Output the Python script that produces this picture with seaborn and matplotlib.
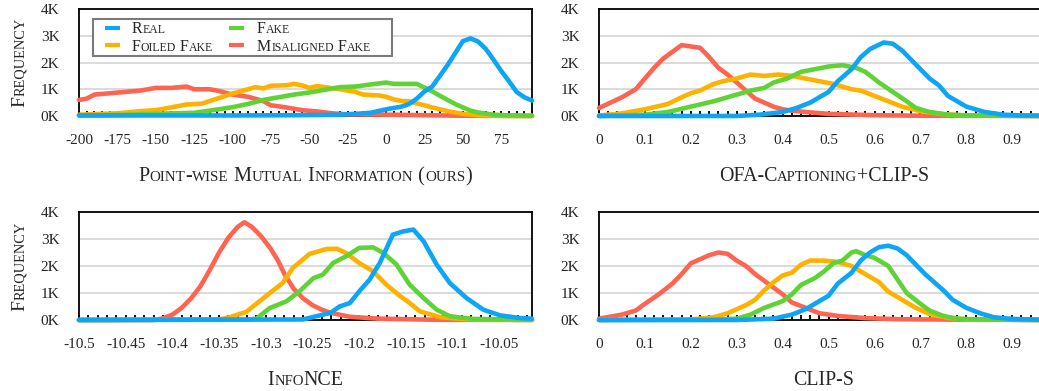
import numpy as np
import pandas as pd
import matplotlib
matplotlib.use("Agg")
import matplotlib.pyplot as plt
import seaborn as sns
from matplotlib.lines import Line2D
from matplotlib.patches import Rectangle

# ---------------- data ----------------
series_names = ["Real", "Foiled Fake", "Fake", "Misaligned Fake"]
draw_order = ["Misaligned Fake", "Foiled Fake", "Fake", "Real"]
palette = {"Real": "#0ea5f5", "Fake": "#5fd335", "Foiled Fake": "#ffb100", "Misaligned Fake": "#ff6450"}

# Point-wise Mutual Information (ours)
pmi_real_x = [-200, -150, -100, -60, -40, -30, -20, -10, 0, 10, 15, 20, 25, 30, 35, 40, 45, 50, 55, 60, 65, 70, 75, 80, 85, 90, 95]
pmi_real_y = [20, 20, 20, 30, 40, 50, 80, 120, 250, 350, 450, 650, 920, 1100, 1500, 1900, 2350, 2800, 2900, 2780, 2500, 2100, 1680, 1300, 900, 700, 580]
pmi_fake_x = [-200, -175, -150, -125, -115, -100, -90, -80, -70, -60, -50, -40, -30, -20, -10, 0, 5, 10, 20, 25, 30, 40, 45, 50, 55, 60, 70, 80, 95]
pmi_fake_y = [20, 40, 80, 120, 200, 330, 450, 600, 700, 800, 880, 980, 1080, 1100, 1180, 1250, 1200, 1200, 1200, 1060, 920, 600, 450, 320, 200, 130, 50, 20, 10]
pmi_foiled_x = [-200, -175, -160, -150, -140, -130, -120, -110, -100, -90, -85, -80, -75, -65, -60, -55, -50, -45, -40, -30, -25, -20, -15, -5, 0, 5, 10, 15, 20, 25, 30, 40, 50, 60, 70, 95]
pmi_foiled_y = [50, 100, 180, 220, 320, 430, 460, 650, 840, 1000, 1080, 1030, 1130, 1150, 1200, 1150, 1050, 1120, 1080, 1000, 950, 900, 800, 770, 720, 620, 560, 550, 470, 400, 320, 180, 80, 30, 10, 0]
pmi_mis_x = [-200, -195, -190, -180, -170, -160, -150, -140, -130, -125, -115, -110, -100, -90, -80, -75, -65, -55, -45, -35, -25, 0, 25, 50, 95]
pmi_mis_y = [600, 650, 800, 850, 900, 950, 1050, 1050, 1100, 1000, 1000, 950, 800, 720, 560, 400, 320, 220, 170, 100, 60, 50, 30, 10, 0]

# OFA-Captioning+CLIP-S
ofa_real_x = [0, 0.3, 0.35, 0.4, 0.43, 0.46, 0.5, 0.52, 0.55, 0.57, 0.59, 0.62, 0.64, 0.66, 0.68, 0.7, 0.72, 0.74, 0.76, 0.78, 0.8, 0.84, 0.88, 0.92, 0.96, 0.98]
ofa_real_y = [0, 0, 50, 150, 300, 500, 900, 1300, 1750, 2200, 2500, 2750, 2700, 2450, 2100, 1750, 1400, 1150, 750, 550, 350, 150, 50, 20, 10, 5]
ofa_fake_x = [0, 0.1, 0.15, 0.2, 0.25, 0.28, 0.3, 0.33, 0.36, 0.38, 0.41, 0.44, 0.47, 0.5, 0.53, 0.56, 0.58, 0.61, 0.64, 0.67, 0.69, 0.72, 0.76, 0.8, 0.98]
ofa_fake_y = [0, 50, 150, 350, 550, 700, 800, 950, 1050, 1250, 1400, 1650, 1750, 1850, 1900, 1800, 1650, 1250, 900, 550, 300, 150, 50, 20, 0]
ofa_foiled_x = [0, 0.05, 0.1, 0.15, 0.18, 0.2, 0.22, 0.25, 0.27, 0.3, 0.33, 0.36, 0.39, 0.42, 0.45, 0.48, 0.51, 0.55, 0.57, 0.6, 0.63, 0.66, 0.7, 0.75, 0.8, 0.98]
ofa_foiled_y = [20, 100, 250, 450, 700, 850, 950, 1200, 1300, 1400, 1550, 1500, 1550, 1500, 1400, 1300, 1200, 1000, 950, 750, 550, 350, 180, 70, 20, 0]
ofa_mis_x = [0, 0.05, 0.08, 0.1, 0.12, 0.14, 0.16, 0.18, 0.2, 0.22, 0.24, 0.26, 0.28, 0.3, 0.32, 0.34, 0.36, 0.38, 0.4, 0.42, 0.45, 0.5, 0.6, 0.7, 0.98]
ofa_mis_y = [300, 700, 1000, 1400, 1800, 2150, 2400, 2650, 2600, 2550, 2200, 1800, 1550, 1250, 950, 650, 500, 350, 250, 200, 150, 80, 30, 10, 0]

# InfoNCE
nce_real_x = [-10.5, -10.26, -10.246, -10.231, -10.221, -10.21, -10.2, -10.189, -10.178, -10.164, -10.153, -10.142, -10.131, -10.117, -10.103, -10.085, -10.067, -10.049, -10.027, -10.015]
nce_real_y = [0, 20, 140, 260, 500, 630, 1060, 1490, 2110, 3160, 3280, 3350, 2910, 2050, 1370, 810, 380, 170, 70, 50]
nce_fake_x = [-10.5, -10.32, -10.31, -10.296, -10.278, -10.264, -10.249, -10.239, -10.228, -10.214, -10.2, -10.185, -10.174, -10.16, -10.146, -10.131, -10.117, -10.103, -10.078, -10.015]
nce_fake_y = [0, 10, 50, 440, 690, 1060, 1550, 1680, 2110, 2360, 2670, 2690, 2480, 2050, 1310, 810, 380, 140, 40, 10]
nce_foiled_x = [-10.5, -10.35, -10.339, -10.321, -10.3, -10.282, -10.271, -10.253, -10.235, -10.224, -10.214, -10.2, -10.185, -10.171, -10.156, -10.146, -10.135, -10.113, -10.085, -10.015]
nce_foiled_y = [0, 20, 100, 300, 880, 1370, 1930, 2450, 2630, 2640, 2480, 2110, 1800, 1310, 880, 630, 320, 100, 30, 0]
nce_mis_x = [-10.5, -10.42, -10.41, -10.4, -10.39, -10.38, -10.37, -10.36, -10.35, -10.34, -10.33, -10.323, -10.315, -10.305, -10.295, -10.287, -10.28, -10.27, -10.26, -10.25, -10.24, -10.23, -10.21, -10.18, -10.12, -10.015]
nce_mis_y = [0, 0, 60, 200, 450, 800, 1250, 1850, 2500, 3050, 3450, 3620, 3450, 3100, 2650, 2200, 1700, 1150, 800, 550, 380, 260, 120, 50, 10, 0]

# CLIP-S
clip_real_x = [0, 0.3, 0.38, 0.42, 0.45, 0.48, 0.5, 0.52, 0.55, 0.57, 0.59, 0.61, 0.63, 0.65, 0.67, 0.69, 0.71, 0.73, 0.75, 0.77, 0.8, 0.83, 0.86, 0.9, 0.96, 0.98]
clip_real_y = [0, 0, 50, 200, 400, 700, 900, 1350, 1750, 2200, 2500, 2700, 2750, 2650, 2400, 2050, 1700, 1400, 1100, 750, 450, 250, 100, 40, 10, 5]
clip_fake_x = [0, 0.25, 0.3, 0.33, 0.36, 0.4, 0.42, 0.44, 0.47, 0.49, 0.51, 0.53, 0.55, 0.56, 0.58, 0.6, 0.63, 0.65, 0.67, 0.7, 0.72, 0.75, 0.78, 0.82, 0.98]
clip_fake_y = [0, 10, 50, 200, 450, 700, 950, 1300, 1550, 1800, 2100, 2200, 2500, 2550, 2400, 2300, 2000, 1500, 1000, 600, 350, 150, 50, 20, 0]
clip_foiled_x = [0, 0.2, 0.25, 0.28, 0.32, 0.34, 0.36, 0.38, 0.4, 0.42, 0.44, 0.46, 0.49, 0.52, 0.55, 0.58, 0.61, 0.63, 0.66, 0.69, 0.72, 0.76, 0.8, 0.98]
clip_foiled_y = [0, 20, 100, 250, 550, 750, 1100, 1400, 1650, 1750, 2050, 2200, 2200, 2150, 2000, 1700, 1400, 1050, 750, 450, 220, 80, 20, 0]
clip_mis_x = [0, 0.05, 0.08, 0.1, 0.13, 0.16, 0.18, 0.2, 0.22, 0.24, 0.26, 0.28, 0.3, 0.32, 0.34, 0.36, 0.38, 0.4, 0.42, 0.45, 0.48, 0.52, 0.58, 0.65, 0.8, 0.98]
clip_mis_y = [50, 200, 350, 600, 950, 1350, 1700, 2100, 2250, 2400, 2500, 2450, 2200, 2000, 1700, 1450, 1200, 950, 650, 450, 250, 150, 70, 30, 10, 0]

pmi_ticks = [-200, -175, -150, -125, -100, -75, -50, -25, 0, 25, 50, 75]
pmi_labels = ["-200", "-175", "-150", "-125", "-100", "-75", "-50", "-25", "0", "25", "50", "75"]
nce_ticks = [-10.5, -10.45, -10.4, -10.35, -10.3, -10.25, -10.2, -10.15, -10.1, -10.05]
nce_labels = ["-10.5", "-10.45", "-10.4", "-10.35", "-10.3", "-10.25", "-10.2", "-10.15", "-10.1", "-10.05"]
unit_ticks = [0, 0.1, 0.2, 0.3, 0.4, 0.5, 0.6, 0.7, 0.8, 0.9]
unit_labels = ["0", "0.1", "0.2", "0.3", "0.4", "0.5", "0.6", "0.7", "0.8", "0.9"]
y_ticks = [0, 1000, 2000, 3000, 4000]
y_labels = ["0K", "1K", "2K", "3K", "4K"]

panel_titles = ["Point-wise Mutual Information (ours)", "OFA-Captioning+CLIP-S", "InfoNCE", "CLIP-S"]


def frame(xs, ys):
    rows = []
    for name, x, y in zip(["Real", "Fake", "Foiled Fake", "Misaligned Fake"], xs, ys):
        rows.append(pd.DataFrame({"x": x, "y": y, "series": name}))
    return pd.concat(rows, ignore_index=True)


panels = [
    dict(df=frame([pmi_real_x, pmi_fake_x, pmi_foiled_x, pmi_mis_x], [pmi_real_y, pmi_fake_y, pmi_foiled_y, pmi_mis_y]),
         xlim=(-200, 95), ticks=pmi_ticks, labels=pmi_labels, minor=5, rect=(79, 9, 532, 116)),
    dict(df=frame([ofa_real_x, ofa_fake_x, ofa_foiled_x, ofa_mis_x], [ofa_real_y, ofa_fake_y, ofa_foiled_y, ofa_mis_y]),
         xlim=(0, 0.98), ticks=unit_ticks, labels=unit_labels, minor=0.02, rect=(599, 9, 1049, 116)),
    dict(df=frame([nce_real_x, nce_fake_x, nce_foiled_x, nce_mis_x], [nce_real_y, nce_fake_y, nce_foiled_y, nce_mis_y]),
         xlim=(-10.5, -10.015), ticks=nce_ticks, labels=nce_labels, minor=0.01, rect=(79, 212, 532, 320)),
    dict(df=frame([clip_real_x, clip_fake_x, clip_foiled_x, clip_mis_x], [clip_real_y, clip_fake_y, clip_foiled_y, clip_mis_y]),
         xlim=(0, 0.98), ticks=unit_ticks, labels=unit_labels, minor=0.02, rect=(599, 212, 1049, 320)),
]

# ---------------- style ----------------
sns.set_style("white")
plt.rcParams["font.family"] = ["Liberation Serif", "DejaVu Serif"]

W, H = 1039, 391
fig = plt.figure(figsize=(W / 100, H / 100), dpi=100)
renderer = fig.canvas.get_renderer()


def fx(x):
    return x / W


def fy(y):
    return 1 - y / H


def text_adv(s, size):
    t1 = fig.text(0, 0, "|" + s + "|", fontsize=size)
    t2 = fig.text(0, 0, "||", fontsize=size)
    w = t1.get_window_extent(renderer).width - t2.get_window_extent(renderer).width
    t1.remove()
    t2.remove()
    return w


def sc_runs(s):
    runs = []
    for ch in s:
        small = ch.islower()
        c = ch.upper() if small else ch
        if runs and runs[-1][0] == small:
            runs[-1][1] += c
        else:
            runs.append([small, c])
    return runs


def smallcaps(x, y, s, size, ratio=0.74, rotation=0, align="center"):
    runs = sc_runs(s)
    sizes = [size * ratio if sm else size for sm, _ in runs]
    widths = [text_adv(t, sz) for (_, t), sz in zip(runs, sizes)]
    total = sum(widths)
    if rotation == 0:
        cur = x - total / 2 if align == "center" else x
        for (_, t), sz, w in zip(runs, sizes, widths):
            fig.text(fx(cur), fy(y), t, fontsize=sz, ha="left", va="baseline", zorder=10)
            cur += w
    else:
        cur = y + total / 2
        for (_, t), sz, w in zip(runs, sizes, widths):
            fig.text(fx(x), fy(cur), t, fontsize=sz, ha="left", va="baseline",
                     rotation=90, rotation_mode="anchor", zorder=10)
            cur -= w


for i, p in enumerate(panels):
    l, t, r, b = p["rect"]
    ax = fig.add_axes([fx(l), fy(b), (r - l) / W, (b - t) / H])
    sns.lineplot(data=p["df"], x="x", y="y", hue="series", hue_order=draw_order, palette=palette,
                 estimator=None, sort=False, legend=False, linewidth=3.3, ax=ax)
    for ln in ax.lines:
        ln.set_solid_capstyle("round")
        ln.set_solid_joinstyle("round")
        ln.set_clip_on(False)
    ax.set_xlim(*p["xlim"])
    ax.set_ylim(0, 4000)
    ax.set_xticks(p["ticks"], p["labels"])
    ax.xaxis.set_minor_locator(matplotlib.ticker.MultipleLocator(p["minor"]))
    ax.set_yticks(y_ticks, y_labels)
    ax.set_xlabel("")
    ax.set_ylabel("")
    ax.tick_params(axis="x", which="both", direction="in", length=3.5, width=1.3, color="black",
                   labelsize=11, pad=13, bottom=True)
    ax.tick_params(axis="y", length=0, labelsize=11, pad=14)
    ax.yaxis.grid(True, color="#d4d4d4", linewidth=1.2)
    ax.set_axisbelow(True)
    for name, sp in ax.spines.items():
        sp.set_color("black")
        sp.set_linewidth(1.3)
        sp.set_zorder(1.5)
    if i % 2 == 1:
        ax.spines["right"].set_visible(False)

# axis titles in small caps
smallcaps((79 + 532) / 2, 181, panel_titles[0], 14.6)
smallcaps((599 + 1049) / 2, 181, panel_titles[1], 14.3)
smallcaps((79 + 532) / 2, 385, panel_titles[2], 14.3)
smallcaps((599 + 1049) / 2, 385, panel_titles[3], 14.3)
smallcaps(24, 62.5, "Frequency", 14, rotation=90)
smallcaps(24, 266, "Frequency", 14, rotation=90)

# legend (two columns, small caps labels)
fig.add_artist(Rectangle((fx(93), fy(56)), (392 - 93) / W, (56 - 19) / H, transform=fig.transFigure,
                         facecolor="white", edgecolor="#7a7a7a", linewidth=1.5, zorder=5))
legend_layout = [("Real", 105, 28.3, 132, 33.3), ("Foiled Fake", 105, 45.3, 132, 50.7),
                 ("Fake", 229, 28.3, 257, 33.3), ("Misaligned Fake", 229, 45.3, 257, 50.7)]
for name, lx, ly, tx, ty in legend_layout:
    fig.add_artist(Line2D([fx(lx), fx(lx + 15)], [fy(ly), fy(ly)], transform=fig.transFigure,
                          color=palette[name], linewidth=3, solid_capstyle="butt", zorder=6))
    smallcaps(tx, ty, name, 11.5, align="left")

fig.savefig("out.png", dpi=100)
